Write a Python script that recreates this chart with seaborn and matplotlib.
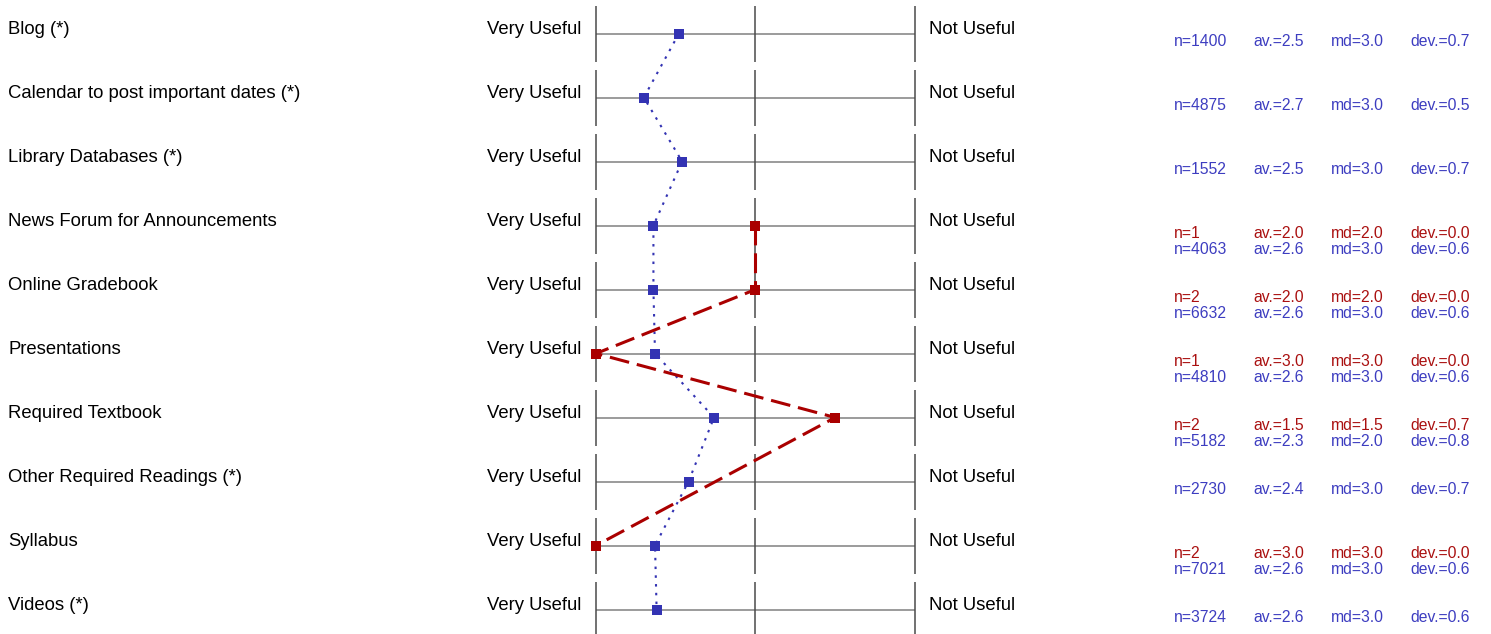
import numpy as np
import pandas as pd
import matplotlib
matplotlib.use('Agg')
import matplotlib.pyplot as plt
import matplotlib.transforms as mtransforms
import seaborn as sns

# Items rated, top to bottom
categories = ['Blog (*)', 'Calendar to post important dates (*)', 'Library Databases (*)',
              'News Forum for Announcements', 'Online Gradebook', 'Presentations',
              'Required Textbook', 'Other Required Readings (*)', 'Syllabus', 'Videos (*)']

# Blue series (all respondents)
blue_n = [1400, 4875, 1552, 4063, 6632, 4810, 5182, 2730, 7021, 3724]
blue_av = [2.48, 2.70, 2.46, 2.64, 2.64, 2.63, 2.26, 2.42, 2.63, 2.62]
blue_md = [3.0, 3.0, 3.0, 3.0, 3.0, 3.0, 2.0, 3.0, 3.0, 3.0]
blue_dev = [0.7, 0.5, 0.7, 0.6, 0.6, 0.6, 0.8, 0.7, 0.6, 0.6]

# Red series (this course), NaN where no answers
nan = np.nan
red_n = [nan, nan, nan, 1, 2, 1, 2, nan, 2, nan]
red_av = [nan, nan, nan, 2.0, 2.0, 3.0, 1.5, nan, 3.0, nan]
red_md = [nan, nan, nan, 2.0, 2.0, 3.0, 1.5, nan, 3.0, nan]
red_dev = [nan, nan, nan, 0.0, 0.0, 0.0, 0.7, nan, 0.0, nan]

# scale: 3 = Very Useful (left), 1 = Not Useful (right)
scale_ticks = [3, 2, 1]
left_label = 'Very Useful'
right_label = 'Not Useful'

BLUE = '#3333b3'
BLUE_TXT = '#3d3dc0'
RED = '#aa0000'
RED_TXT = '#aa1010'

df = pd.DataFrame({'item': categories, 'row': np.arange(len(categories)),
                   'blue_n': blue_n, 'blue_av': blue_av, 'blue_md': blue_md, 'blue_dev': blue_dev,
                   'red_n': red_n, 'red_av': red_av, 'red_md': red_md, 'red_dev': red_dev})

sns.set_style('white')
plt.rcParams['font.family'] = ['Liberation Sans', 'DejaVu Sans']

W, H = 1491, 634
fig = plt.figure(figsize=(W / 100, H / 100), dpi=100)
ax = fig.add_axes([596 / W, 0, (915 - 596) / W, 1])

px = 1 / 64.0  # one pixel in row units

# row frame: horizontal line and three vertical ticks
ax.hlines(df['row'], 3, 1, color='#808080', lw=1.1, clip_on=False, zorder=1)
for y in df['row']:
    ax.vlines(scale_ticks, y - 27.5 * px, y + 28 * px, color='#4a4a4a', lw=1.1,
              clip_on=False, zorder=1)

sns.lineplot(data=df, x='blue_av', y='row', sort=False, estimator=None, ax=ax,
             color=BLUE, lw=1.5, linestyle=(0, (1.2, 3.0)), marker='s', markersize=6.5,
             markeredgewidth=0, clip_on=False, zorder=3)
red = df.dropna(subset=['red_av'])
sns.lineplot(data=red, x='red_av', y='row', sort=False, estimator=None, ax=ax,
             color=RED, lw=2.2, linestyle=(0, (6.5, 2.6)), marker='s', markersize=6.5,
             markeredgewidth=0, clip_on=False, zorder=4)
ax.set_xlim(3, 1)
ax.set_ylim((H - 33.5) / 64, -33.5 / 64)
ax.axis('off')

trans = mtransforms.blended_transform_factory(fig.transFigure, ax.transData)
for _, r in df.iterrows():
    y = r['row']
    ax.text(8 / W, y, r['item'], transform=trans, ha='left', va='baseline',
            fontsize=13.3, color='black')
    ax.text(581 / W, y, left_label, transform=trans, ha='right', va='baseline',
            fontsize=13.3, color='black')
    ax.text(929 / W, y, right_label, transform=trans, ha='left', va='baseline',
            fontsize=13.3, color='black')

    lines = []
    if not np.isnan(r['red_av']):
        lines.append((r['red_n'], r['red_av'], r['red_md'], r['red_dev'], RED_TXT))
    lines.append((r['blue_n'], r['blue_av'], r['blue_md'], r['blue_dev'], BLUE_TXT))
    for k, (n, av, md, dev, c) in enumerate(lines):
        yy = y + (12.5 + 15.5 * k) * px
        for xp, s in zip([1174, 1253, 1331, 1410],
                         [f'n={int(n)}', f'av.={av:.1f}', f'md={md:.1f}', f'dev.={dev:.1f}']):
            ax.text(xp / W, yy, s, transform=trans, ha='left', va='baseline',
                    fontsize=11.3, color=c)

fig.savefig('out.png', dpi=100)
